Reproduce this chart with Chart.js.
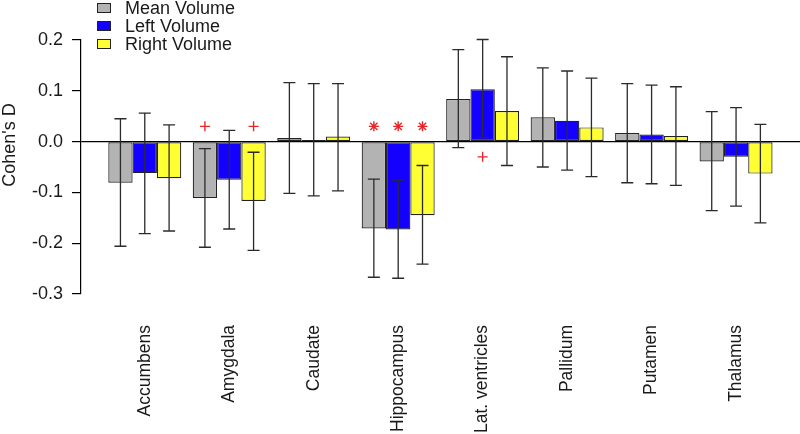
<!DOCTYPE html>
<html>
<head>
<meta charset="utf-8">
<title>Cohen's D by structure</title>
<script src="https://cdn.jsdelivr.net/npm/chart.js@4.4.1/dist/chart.umd.min.js"></script>
<style>
  html, body { margin: 0; padding: 0; background: #fff; }
  #wrap { width: 800px; height: 434px; position: relative; }
</style>
</head>
<body>
<div id="wrap"><canvas id="dChart"></canvas></div>
<script>
// --- data ---
const categories = ['Accumbens', 'Amygdala', 'Caudate', 'Hippocampus',
  'Lat. ventricles', 'Pallidum', 'Putamen', 'Thalamus'];

const meanVolume  = [-0.081, -0.111, 0.007, -0.171, 0.084, 0.048, 0.017, -0.039];
const leftVolume  = [-0.062, -0.075, 0.003, -0.173, 0.103, 0.041, 0.014, -0.030];
const rightVolume = [-0.072, -0.117, 0.010, -0.145, 0.060, 0.028, 0.011, -0.063];

// confidence interval ends
const meanLower  = [-0.206, -0.208, -0.102, -0.267, -0.012, -0.050, -0.081, -0.136];
const meanUpper  = [ 0.045, -0.014,  0.116, -0.074,  0.181,  0.145,  0.114,  0.059];
const leftLower  = [-0.181, -0.172, -0.107, -0.269,  0.008, -0.056, -0.083, -0.127];
const leftUpper  = [ 0.056,  0.022,  0.114, -0.076,  0.201,  0.139,  0.111,  0.067];
const rightLower = [-0.176, -0.214, -0.097, -0.241, -0.047, -0.069, -0.086, -0.160];
const rightUpper = [ 0.033, -0.021,  0.114, -0.047,  0.167,  0.125,  0.108,  0.034];

const yTicks = [-0.3, -0.2, -0.1, 0.0, 0.1, 0.2];

// significance marks: category index, series index, symbol, y value
const markCategory = [1, 1, 3, 3, 3, 4];
const markSeries   = [0, 2, 0, 1, 2, 1];
const markSymbol   = ['+', '+', '*', '*', '*', '+'];
const markValue    = [0.03, 0.03, 0.03, 0.03, 0.03, -0.03];

const seriesNames = ['Mean Volume', 'Left Volume', 'Right Volume'];
const seriesColors = ['#b3b3b3', '#1400ff', '#ffff33'];
const lowers = [meanLower, leftLower, rightLower];
const uppers = [meanUpper, leftUpper, rightUpper];

const FONT = "'Liberation Sans', Arial, Helvetica, sans-serif";
const INK = '#1a1a1a';

Chart.defaults.font.family = FONT;
Chart.defaults.font.size = 18;
Chart.defaults.color = INK;

function toPoints(vals) {
  return vals.map((v, i) => ({ x: i, y: v }));
}

// error bars on top of each bar, plus the red significance marks
const errorBars = {
  id: 'errorBars',
  afterDatasetsDraw(chart) {
    const ctx = chart.ctx;
    const y = chart.scales.y;
    ctx.save();
    ctx.strokeStyle = '#2b2b2b';
    ctx.lineWidth = 1.3;
    chart.data.datasets.forEach((ds, di) => {
      const meta = chart.getDatasetMeta(di);
      meta.data.forEach((bar, i) => {
        const top = y.getPixelForValue(uppers[di][i]);
        const bot = y.getPixelForValue(lowers[di][i]);
        ctx.beginPath();
        ctx.moveTo(bar.x, top); ctx.lineTo(bar.x, bot);
        ctx.moveTo(bar.x - 6, top); ctx.lineTo(bar.x + 6, top);
        ctx.moveTo(bar.x - 6, bot); ctx.lineTo(bar.x + 6, bot);
        ctx.stroke();
      });
    });
    ctx.strokeStyle = '#e8262a';
    ctx.lineWidth = 1.4;
    markCategory.forEach((c, k) => {
      const bar = chart.getDatasetMeta(markSeries[k]).data[c];
      const px = bar.x;
      const py = y.getPixelForValue(markValue[k]);
      const r = 5;
      ctx.beginPath();
      ctx.moveTo(px - r, py); ctx.lineTo(px + r, py);
      ctx.moveTo(px, py - r); ctx.lineTo(px, py + r);
      if (markSymbol[k] === '*') {
        const d = r * 0.72;
        ctx.moveTo(px - d, py - d); ctx.lineTo(px + d, py + d);
        ctx.moveTo(px - d, py + d); ctx.lineTo(px + d, py - d);
      }
      ctx.stroke();
    });
    ctx.restore();
  }
};

// R-style legend in the top left corner and rotated y title
const sideText = {
  id: 'sideText',
  afterDraw(chart) {
    const ctx = chart.ctx;
    ctx.save();
    ctx.font = '18px ' + FONT;
    ctx.textBaseline = 'middle';
    ctx.textAlign = 'left';
    seriesNames.forEach((name, i) => {
      const cy = 8 + i * 18;
      ctx.fillStyle = seriesColors[i];
      ctx.fillRect(97, cy - 5, 14, 10);
      ctx.strokeStyle = '#222';
      ctx.lineWidth = 1;
      ctx.strokeRect(97.5, cy - 4.5, 13, 9);
      ctx.fillStyle = INK;
      ctx.fillText(name, 125, cy + 1);
    });
    ctx.translate(10, 145);
    ctx.rotate(-Math.PI / 2);
    ctx.textAlign = 'center';
    ctx.fillText("Cohen's D", 0, 0);
    ctx.restore();
  }
};

const ctx = document.getElementById('dChart').getContext('2d');
const dChart = new Chart(ctx, {
  type: 'bar',
  data: {
    datasets: [meanVolume, leftVolume, rightVolume].map((vals, i) => ({
      label: seriesNames[i],
      data: toPoints(vals),
      backgroundColor: seriesColors[i],
      borderColor: '#222',
      borderWidth: 1.2,
      borderSkipped: false,
      categoryPercentage: 0.864,
      barPercentage: 1.0
    }))
  },
  options: {
    responsive: true,
    maintainAspectRatio: false,
    animation: false,
    layout: { padding: { top: 40, right: 0, left: 0, bottom: 0 } },
    plugins: {
      legend: { display: false },
      tooltip: { enabled: false }
    },
    scales: {
      x: {
        type: 'linear',
        offset: false,
        min: -0.755,
        max: 7.757,
        afterBuildTicks: scale => {
          scale.ticks = categories.map((_, i) => ({ value: i }));
        },
        afterFit: scale => {
          scale.height = 140;
          scale.paddingLeft = 0;
          scale.paddingRight = 0;
        },
        grid: { display: false, drawTicks: false, offset: false },
        border: { display: false },
        ticks: {
          autoSkip: false,
          minRotation: 90,
          maxRotation: 90,
          padding: 31,
          font: { size: 17.5 },
          callback: v => categories[v] ?? ''
        }
      },
      y: {
        min: -0.3,
        max: 0.2,
        afterBuildTicks: scale => {
          scale.ticks = yTicks.map(v => ({ value: v }));
        },
        afterFit: scale => { scale.width = 81; },
        border: { display: true, color: '#000', width: 1.2 },
        grid: {
          drawOnChartArea: true,
          drawTicks: true,
          tickLength: 9,
          tickColor: '#000',
          color: c => (c.tick && Math.abs(c.tick.value) < 1e-9) ? '#000' : 'rgba(0,0,0,0)',
          lineWidth: 1.2
        },
        ticks: {
          padding: 9,
          font: { size: 18 },
          callback: v => v.toFixed(1)
        }
      }
    }
  },
  plugins: [errorBars, sideText]
});
</script>
</body>
</html>
